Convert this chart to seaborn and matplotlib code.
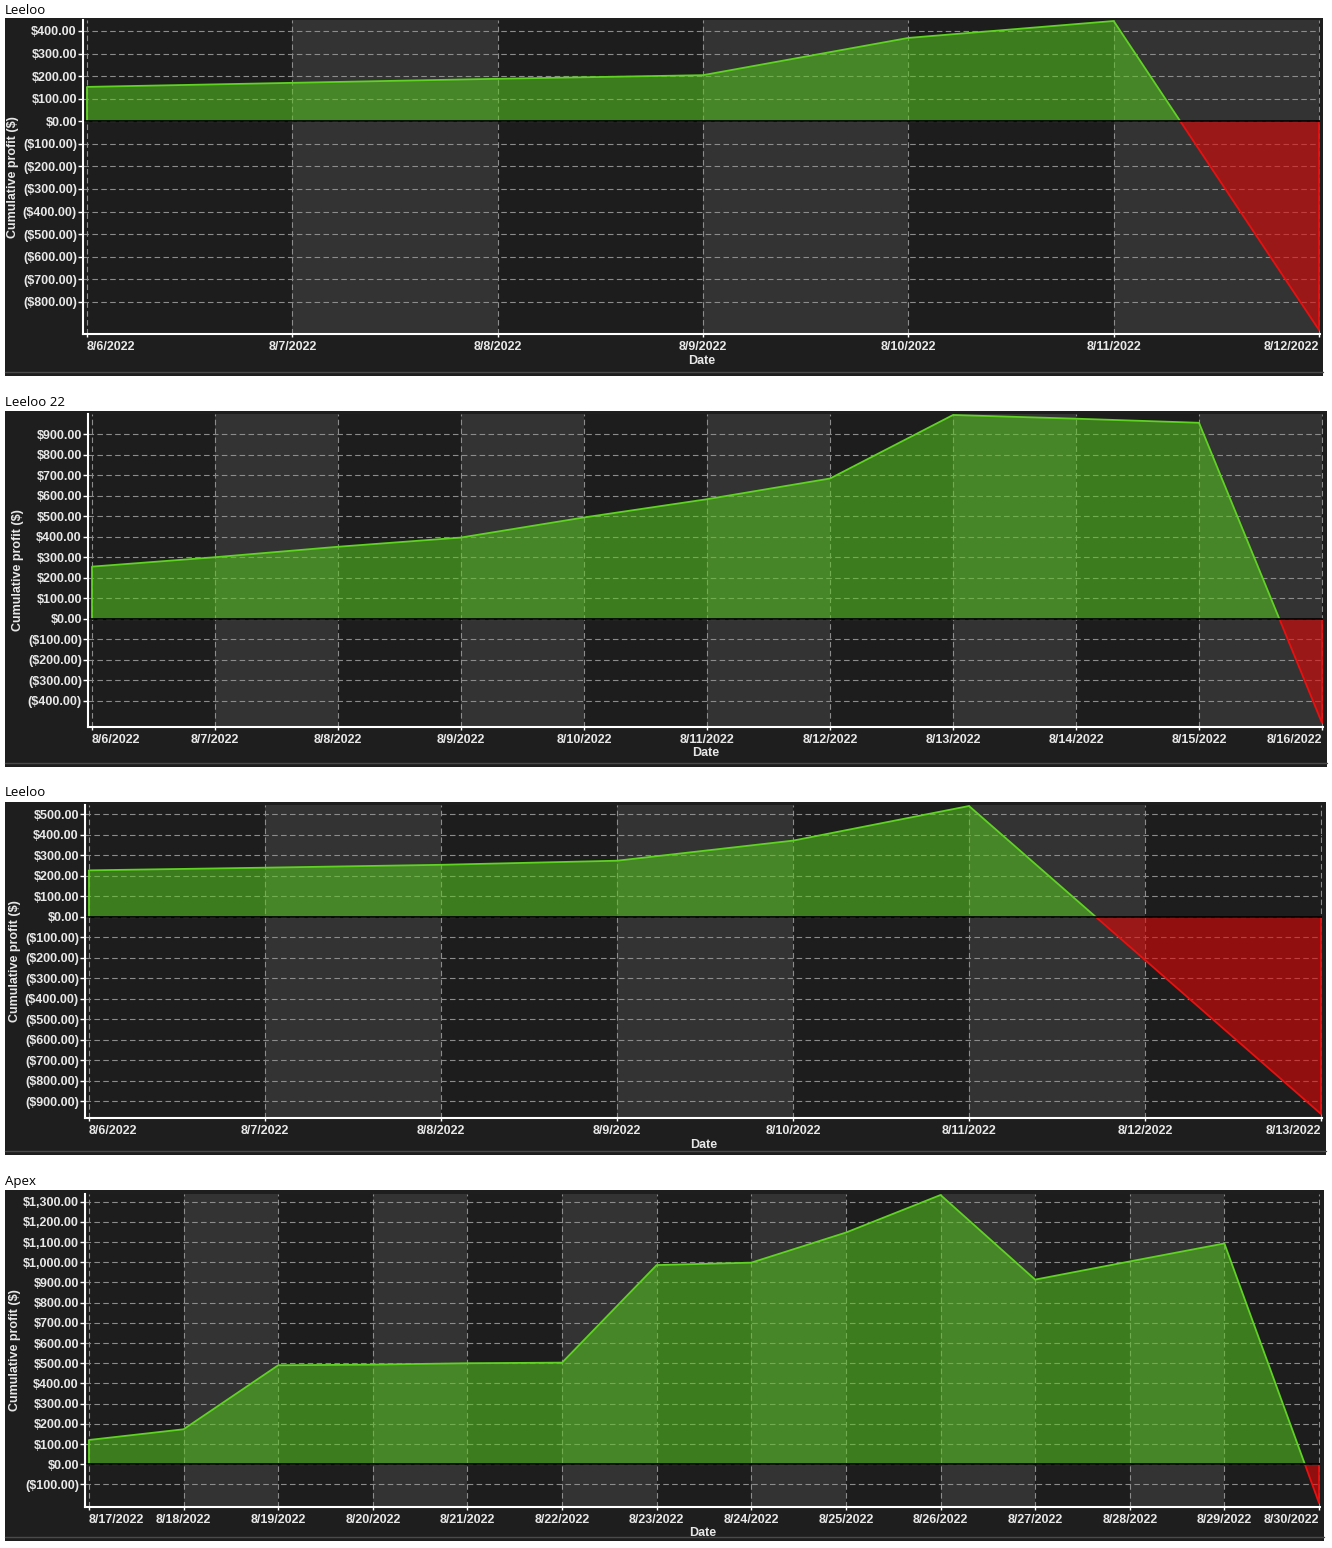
import numpy as np
import pandas as pd
import matplotlib
matplotlib.use("Agg")
import matplotlib.pyplot as plt
import matplotlib.dates as mdates
from matplotlib.ticker import FuncFormatter, FixedLocator
from matplotlib.patches import Rectangle
import seaborn as sns

# ---------------- data ----------------
titles = ["Leeloo", "Leeloo 22", "Leeloo", "Apex"]

p1_dates = ["2022-08-06", "2022-08-07", "2022-08-08", "2022-08-09",
            "2022-08-10", "2022-08-11", "2022-08-12"]
p1_values = [152, 170, 188, 204, 369, 444, -925]

p2_dates = ["2022-08-06", "2022-08-07", "2022-08-08", "2022-08-09",
            "2022-08-10", "2022-08-11", "2022-08-12", "2022-08-13",
            "2022-08-14", "2022-08-15", "2022-08-16"]
p2_values = [254, 300, 351, 396, 494, 583, 684, 994, 976, 956, -509]

p3_dates = ["2022-08-06", "2022-08-07", "2022-08-08", "2022-08-09",
            "2022-08-10", "2022-08-11", "2022-08-13"]
p3_values = [226, 239, 253, 273, 371, 540, -963]

p4_dates = ["2022-08-17", "2022-08-18", "2022-08-19", "2022-08-20",
            "2022-08-21", "2022-08-22", "2022-08-23", "2022-08-24",
            "2022-08-25", "2022-08-26", "2022-08-27", "2022-08-28",
            "2022-08-29", "2022-08-30"]
p4_values = [120, 173, 490, 493, 500, 503, 986, 998, 1147, 1333, 914, 1004, 1093, -192]

# y tick label range per panel (min, max)
p1_ytick_range = (-800, 400)
p2_ytick_range = (-400, 900)
p3_ytick_range = (-900, 500)
p4_ytick_range = (-100, 1300)

y_label = "Cumulative profit ($)"
x_label = "Date"

# ---------------- style ----------------
sns.set_theme(style="dark")
plt.rcParams["font.family"] = ["Liberation Sans", "DejaVu Sans"]

W, H = 1332, 1548
fig = plt.figure(figsize=(W / 100, H / 100), dpi=100)
fig.patch.set_facecolor("white")

FRAME = "#1e1e1e"
BAND_DARK = "#1d1d1d"
BAND_LIGHT = "#333333"
GRID = "#8c8c8c"
GREEN_LINE = "#5fd223"
GREEN_FILL = (89 / 255, 202 / 255, 33 / 255, 0.55)
RED_LINE = "#e81010"
RED_FILL = (230 / 255, 6 / 255, 6 / 255, 0.58)
TXT = "#e8e8e8"
LW = 1.3

# layout in pixels
frames = [(5, 18, 1323, 376), (5, 411, 1327, 767), (5, 802, 1326, 1155), (5, 1190, 1324, 1541)]
axes_px = [(83, 20, 1320, 334), (88, 414, 1323, 727), (85, 805, 1322, 1118), (85, 1194, 1320, 1507)]
title_y = [10, 402, 793, 1181]

panels = [
    (p1_dates, p1_values, p1_ytick_range),
    (p2_dates, p2_values, p2_ytick_range),
    (p3_dates, p3_values, p3_ytick_range),
    (p4_dates, p4_values, p4_ytick_range),
]


def money(v, pos=None):
    if v < 0:
        return "(${:,.2f})".format(-v)
    return "${:,.2f}".format(v)


for k, (dates, values, ytr) in enumerate(panels):
    fx0, fy0, fx1, fy1 = frames[k]
    fig.patches.append(Rectangle((fx0 / W, 1 - fy1 / H), (fx1 - fx0) / W, (fy1 - fy0) / H,
                                 transform=fig.transFigure, facecolor=FRAME,
                                 edgecolor="none", zorder=-2))
    fig.lines.append(plt.Line2D([fx0 / W, fx1 / W], [1 - (fy1 - 4) / H] * 2,
                                transform=fig.transFigure, color="#4a4a4a", lw=1, zorder=-1))
    fig.text(fx0 / W, 1 - title_y[k] / H, titles[k], ha="left", va="center",
             fontsize=9.5, color="black", family=["Open Sans", "DejaVu Sans"])

    ax0, ay0, ax1, ay1 = axes_px[k]
    aw, ah = ax1 - ax0, ay1 - ay0
    ax = fig.add_axes([ax0 / W, 1 - ay1 / H, aw / W, ah / H])
    ax.set_zorder(1)
    ax.set_facecolor(BAND_DARK)

    dts = pd.to_datetime(dates)
    x = mdates.date2num(dts)
    y = np.asarray(values, dtype=float)
    tick_dates = pd.date_range(dts[0], dts[-1], freq="D")
    tx = mdates.date2num(tick_dates)

    # limits
    ndays = tx[-1] - tx[0]
    ppd = (aw - 5) / ndays
    xlo, xhi = tx[0] - 4 / ppd, tx[-1] + 1 / ppd
    vmax, vmin = y.max(), y.min()
    span = (vmax - vmin) / (1 - 5 / ah)
    top = vmax + span * 1 / ah
    ylo, yhi = top - span, top

    # alternating day bands
    for i in range(len(tx) - 1):
        if i % 2 == 1:
            ax.axvspan(tx[i], tx[i + 1], color=BAND_LIGHT, zorder=0, lw=0)

    # fills
    ax.fill_between(x, y, 0, where=y >= 0, interpolate=True, facecolor=GREEN_FILL,
                    edgecolor="none", lw=0, zorder=2)
    ax.fill_between(x, y, 0, where=y <= 0, interpolate=True, facecolor=RED_FILL,
                    edgecolor="none", lw=0, zorder=2)

    # outline: green above zero, red below zero
    df = pd.DataFrame({"x": x, "y": y})
    for color, clip_lo, clip_hi in [(GREEN_LINE, 0, yhi * 2 + 10), (RED_LINE, ylo * 2 - 10, 0)]:
        n_before = len(ax.lines)
        sns.lineplot(data=df, x="x", y="y", ax=ax, color=color, lw=LW, zorder=3)
        clip = Rectangle((xlo - 1, clip_lo), (xhi - xlo) + 2, clip_hi - clip_lo,
                         transform=ax.transData, facecolor="none", edgecolor="none")
        ax.add_patch(clip)
        for ln in ax.lines[n_before:]:
            ln.set_clip_path(clip)
    # vertical edges at the series ends
    for xi, yi in [(x[0], y[0]), (x[-1], y[-1])]:
        ax.vlines(xi, min(0, yi), max(0, yi), color=GREEN_LINE if yi >= 0 else RED_LINE,
                  lw=LW, zorder=3)
    ax.axhline(0, color="black", lw=1.2, zorder=4)

    ax.set_xlim(xlo, xhi)
    ax.set_ylim(ylo, yhi)

    # ticks
    yt = np.arange(ytr[0], ytr[1] + 1, 100)
    ax.yaxis.set_major_locator(FixedLocator(yt))
    ax.yaxis.set_major_formatter(FuncFormatter(money))
    ax.set_xticks(tx)
    ax.set_xticklabels([f"{d.month}/{d.day}/{d.year}" for d in tick_dates])
    labs = ax.get_xticklabels()
    labs[0].set_ha("left")
    labs[-1].set_ha("right")
    for lab in ax.get_xticklabels() + ax.get_yticklabels():
        lab.set_fontweight("bold")
        lab.set_color(TXT)
        lab.set_fontsize(9)
    ax.tick_params(axis="y", length=3.6, width=1, color="white", pad=0.8, left=True)
    ax.tick_params(axis="x", length=2.5, width=1, color="white", pad=2.5, bottom=True)

    ax.grid(True, which="major", axis="both", color=GRID, linestyle=(0, (5, 3)), lw=0.8, zorder=1)
    ax.set_axisbelow(True)

    for s in ["top", "right"]:
        ax.spines[s].set_visible(False)
    for s in ["left", "bottom"]:
        ax.spines[s].set_visible(True)
        ax.spines[s].set_color("white")
        ax.spines[s].set_linewidth(1.5)
        ax.spines[s].set_zorder(5)

    ax.set_xlabel(x_label, fontsize=9, fontweight="bold", color=TXT)
    ax.xaxis.set_label_coords(0.5, -26.5 / ah)
    ax.xaxis.label.set_va("center")
    ax.set_ylabel(y_label, fontsize=9, fontweight="bold", color=TXT)
    ax.yaxis.set_label_coords(-70 / aw, 0.5)
    ax.yaxis.label.set_va("center")

fig.savefig("out.png", dpi=100, facecolor="white")
